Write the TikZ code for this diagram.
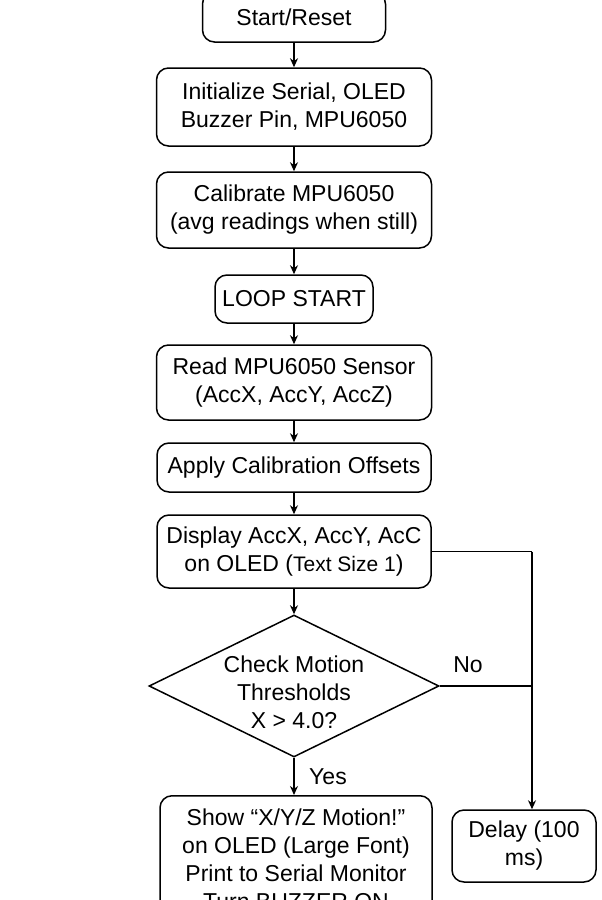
\documentclass[tikz,border=0pt]{standalone}
\usepackage{fontspec}
\setmainfont{Liberation Sans}
\usepackage{tikz}
\usetikzlibrary{positioning, calc, shapes.geometric, arrows.meta}

\begin{document}
\begin{tikzpicture}[x=1pt, y=-1pt,
    every node/.style={font=\fontsize{23}{28}\selectfont},
    blk/.style={draw, line width=1.5pt, rounded corners=12pt, align=center, inner sep=0pt},
    dec/.style={draw, line width=1.5pt, diamond, aspect=2.04, inner sep=-6pt, align=center,
        minimum width=290pt, minimum height=142pt},
    flow/.style={line width=1.5pt, -{Stealth[length=9pt,width=8pt]}}]
    \useasboundingbox (0,0) rectangle (602,900);
    \clip (0,0) rectangle (602,900);
    \node[blk, minimum width=183pt, minimum height=50pt] (start) at (294,17) {Start/Reset};
    \node[blk, minimum width=275pt, minimum height=78pt] (init) at (294,107) {Initialize Serial, OLED\\Buzzer Pin, MPU6050};
    \node[blk, minimum width=275pt, minimum height=76pt] (calib) at (294,210) {Calibrate MPU6050\\(avg readings when still)};
    \node[blk, minimum width=158pt, minimum height=48pt] (loop) at (294,299) {LOOP START};
    \node[blk, minimum width=275pt, minimum height=75pt] (read) at (294,382.5) {Read MPU6050 Sensor\\(AccX, AccY, AccZ)};
    \node[blk, minimum width=274pt, minimum height=49pt] (apply) at (294,467.5) {Apply Calibration Offsets};
    \node[blk, minimum width=274pt, minimum height=73pt] (disp) at (294,551.5) {Display AccX, AccY, AcC\\on OLED ({\fontsize{21}{28}\selectfont Text Size 1})};
    \node[dec] (check) at (294,686) {\rule{0pt}{1pt}\\Check Motion\\Thresholds\\X > 4.0?};
    \node[blk, minimum width=272pt, minimum height=140pt, anchor=north] (show) at (296,795) {\rule{0pt}{1pt}\\[-25pt]Show “X/Y/Z Motion!”\\on OLED (Large Font)\\Print to Serial Monitor\\Turn BUZZER ON};
    \node[blk, minimum width=144pt, minimum height=72pt] (delay) at (524,846) {Delay (100\\ms)};
    \node (no) at (468,665) {No};
    \node (yes) at (328,777) {Yes};
    \coordinate (jn) at (532,551.5);
    \draw[flow] (start) -- (init);
    \draw[flow] (init) -- (calib);
    \draw[flow] (calib) -- (loop);
    \draw[flow] (loop) -- (read);
    \draw[flow] (read) -- (apply);
    \draw[flow] (apply) -- (disp);
    \draw[flow] (disp) -- (check);
    \draw[flow] (check) -- (show.north -| check);
    \draw[line width=1.5pt] (disp.east) -- (jn);
    \draw[line width=1.5pt] (check.east) -- (jn |- check.east);
    \draw[flow] (jn) -- (jn |- delay.north);
\end{tikzpicture}
\end{document}
